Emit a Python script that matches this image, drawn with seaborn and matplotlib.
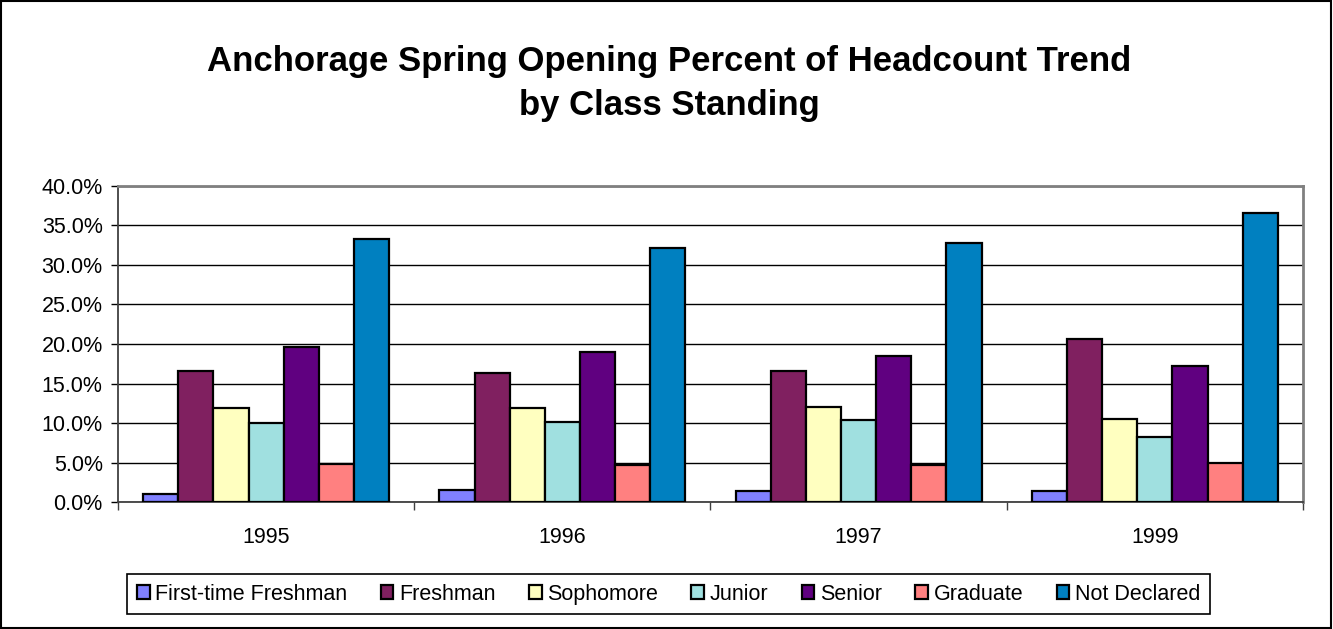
import numpy as np
import pandas as pd
import matplotlib.pyplot as plt
import matplotlib.patches as patches
from matplotlib.ticker import FuncFormatter, FixedLocator
import seaborn as sns

# datos (porcentaje de headcount)
years = ["1995", "1996", "1997", "1999"]
standings = ["First-time Freshman", "Freshman", "Sophomore", "Junior",
             "Senior", "Graduate", "Not Declared"]
first_time = [1.05, 1.56, 1.43, 1.35]
freshman = [16.55, 16.3, 16.63, 20.67]
sophomore = [11.96, 11.87, 12.04, 10.48]
junior = [9.98, 10.1, 10.36, 8.29]
senior = [19.66, 18.99, 18.53, 17.18]
graduate = [4.76, 4.72, 4.72, 4.88]
not_declared = [33.35, 32.17, 32.84, 36.59]
colors = ["#8080FF", "#802060", "#FFFFC0", "#A0E0E0", "#600080", "#FF8080", "#0080C0"]

series = [first_time, freshman, sophomore, junior, senior, graduate, not_declared]
rows = []
for name, vals in zip(standings, series):
    for yr, v in zip(years, vals):
        rows.append({"Year": yr, "Standing": name, "Pct": v})
df = pd.DataFrame(rows)

sns.set_style("white")
plt.rcParams["font.family"] = ["Liberation Sans", "DejaVu Sans"]
plt.rcParams["text.color"] = "black"
plt.rcParams["xtick.color"] = "black"
plt.rcParams["ytick.color"] = "black"

fig = plt.figure(figsize=(13.33, 6.29), dpi=100)
ax = fig.add_axes([0.0885, 0.2019, 0.889, 0.5024])

sns.barplot(data=df, x="Year", y="Pct", hue="Standing", order=years,
            hue_order=standings, palette=colors, saturation=1, width=0.83,
            edgecolor="black", linewidth=1.6, errorbar=None, ax=ax,
            zorder=3)

ax.set_ylim(0, 40)
ax.set_xlim(-0.5, 3.5)
ax.yaxis.set_major_locator(FixedLocator(np.arange(0, 40.1, 5)))
ax.yaxis.set_major_formatter(FuncFormatter(lambda v, p: f"{v:.1f}%"))
ax.yaxis.grid(True, color="black", linewidth=1.0, zorder=0)
ax.set_axisbelow(True)
ax.set_xlabel("")
ax.set_ylabel("")

ax.tick_params(axis="y", which="major", direction="out", length=5, width=1,
               color="black", labelcolor="black", labelsize=15.5, pad=6, left=True)
ax.tick_params(axis="x", which="major", length=0, labelsize=15.5,
               labelcolor="black", pad=18)
ax.set_xticks(np.arange(-0.5, 3.6, 1), minor=True)
ax.tick_params(axis="x", which="minor", direction="out", length=6, width=1,
               color="#404040", bottom=True)

for s in ["left", "bottom"]:
    ax.spines[s].set_color("#404040")
    ax.spines[s].set_linewidth(1.3)
for s in ["top", "right"]:
    ax.spines[s].set_color("#808080")
    ax.spines[s].set_linewidth(2)

fig.text(0.502, 0.928, "Anchorage Spring Opening Percent of Headcount Trend\nby Class Standing",
         fontsize=25, fontweight="bold", ha="center", va="top",
         linespacing=1.4, color="black")

handles, labels = ax.get_legend_handles_labels()
ax.legend(handles, labels, loc="center", bbox_to_anchor=(0.5015, 0.0555),
          bbox_transform=fig.transFigure, ncol=7, frameon=True, fancybox=False,
          edgecolor="black", fontsize=15.5, handlelength=0.6, handleheight=0.6,
          handletextpad=0.25, columnspacing=1.55, borderpad=0.45, framealpha=1)
ax.get_legend().get_frame().set_linewidth(1.2)

fig.patches.append(patches.Rectangle((0.0005, 0.001), 0.998, 0.997,
                                     transform=fig.transFigure, fill=False,
                                     edgecolor="black", linewidth=1.5))

fig.savefig("out.png", dpi=100)
